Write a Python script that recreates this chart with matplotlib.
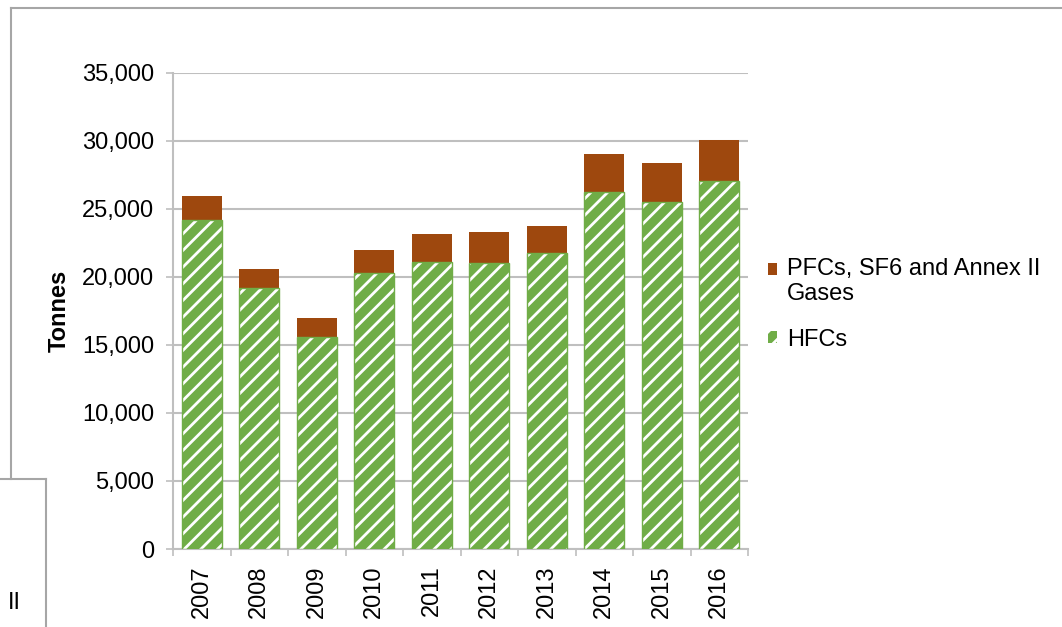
import matplotlib.pyplot as plt
import matplotlib.patches as mpatches
from matplotlib.legend_handler import HandlerPatch
from matplotlib.lines import Line2D
import numpy as np

plt.rcParams['font.family'] = ['Liberation Sans', 'DejaVu Sans']
plt.rcParams['hatch.linewidth'] = 2.0

# data (tonnes)
years = ["2007", "2008", "2009", "2010", "2011", "2012", "2013", "2014", "2015", "2016"]
hfcs = [24200, 19200, 15600, 20300, 21100, 21000, 21750, 26250, 25500, 27050]
pfcs = [1750, 1400, 1400, 1700, 2050, 2300, 2000, 2800, 2850, 3000]

green = "#70ad47"
brown = "#9e480e"
grid_col = "#bfbfbf"
fs = 17

fig = plt.figure(figsize=(10.62, 6.27), dpi=100)
ax = fig.add_axes([173/1062, 1-549/627, (748-173)/1062, (549-73)/627])

x = np.arange(len(years))
ax.bar(x, hfcs, width=0.7, color=green, edgecolor="white", hatch="//", linewidth=0, zorder=3)
ax.bar(x, hfcs, width=0.7, fill=False, edgecolor=green, linewidth=1.0, zorder=4)
ax.bar(x, pfcs, width=0.7, bottom=hfcs, color=brown, linewidth=0, zorder=3)

ax.set_xlim(-0.5, len(years) - 0.5)
ax.set_ylim(0, 35000)
ax.set_yticks(range(0, 35001, 5000))
ax.set_yticklabels([f"{v:,}" for v in range(0, 35001, 5000)])
ax.set_xticks(np.arange(-0.5, len(years), 1), minor=False)
ax.set_xticklabels([])
ax.set_xticks(x, minor=True)
ax.set_xticklabels(years, minor=True, rotation=90)
ax.tick_params(axis="x", which="major", length=5, color=grid_col, width=1.2, direction="out")
ax.tick_params(axis="x", which="minor", length=0, pad=12, labelsize=fs)
ax.tick_params(axis="y", length=5, color=grid_col, width=1.2, pad=8.5, labelsize=fs)

ax.yaxis.grid(True, color=grid_col, linewidth=1.5, zorder=0)
ax.set_axisbelow(True)
for s in ["top", "right"]:
    ax.spines[s].set_visible(False)
for s in ["left", "bottom"]:
    ax.spines[s].set_color(grid_col)
    ax.spines[s].set_linewidth(1.5)

ax.set_ylabel("Tonnes", fontsize=fs, fontweight="bold")
ax.yaxis.set_label_coords((71-173)/575, 0.5)


def raised_square(legend, orig_handle, xdescent, ydescent, width, height, fontsize):
    # keep the marker level with the first line of a two-line label
    return mpatches.Rectangle((-xdescent, -ydescent + 9), width, height)


h_pfc = mpatches.Patch(facecolor=brown, edgecolor=brown, linewidth=0)
h_hfc = mpatches.Patch(facecolor=green, edgecolor="white", hatch="//", linewidth=0)
labels = ["PFCs, SF6 and Annex II\nGases", "HFCs"]
fig.legend([h_pfc, h_hfc], labels, loc="upper left", bbox_to_anchor=(768/1062, 1-258/627),
           frameon=False, fontsize=fs, handlelength=0.4, handleheight=0.42,
           handletextpad=0.42, labelspacing=0.98, borderpad=0, borderaxespad=0,
           handler_map={h_pfc: HandlerPatch(patch_func=raised_square)})

# surrounding chart frames
fig.add_artist(Line2D([11/1062, 1.0], [1-8/627, 1-8/627], color="#a6a6a6", linewidth=1.5))
fig.add_artist(Line2D([11/1062, 11/1062], [1-8/627, 1-479/627], color="#a6a6a6", linewidth=1.5))
fig.add_artist(Line2D([0, 46/1062], [1-479/627, 1-479/627], color="#a6a6a6", linewidth=1.5))
fig.add_artist(Line2D([46/1062, 46/1062], [1-479/627, 0], color="#a6a6a6", linewidth=1.5))
fig.text(8/1062, 1-603/627, "II", fontsize=fs, va="center")

fig.savefig("out.png", dpi=100)
